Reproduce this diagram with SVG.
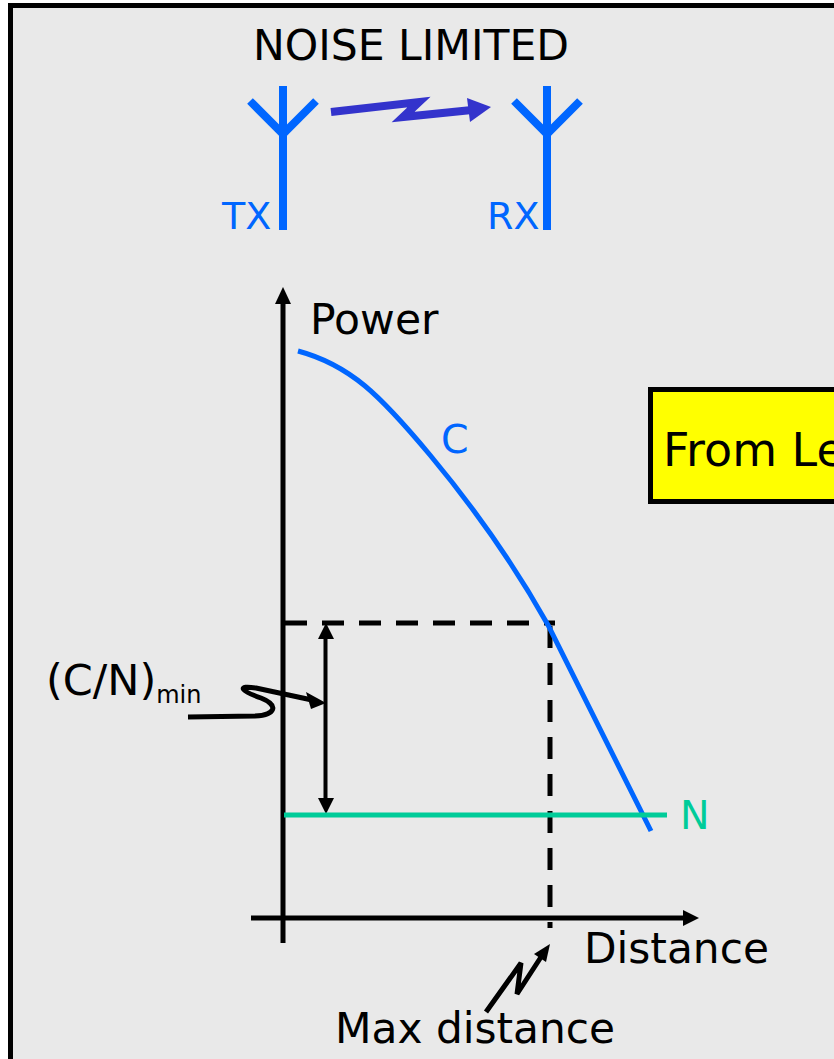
<svg xmlns="http://www.w3.org/2000/svg" width="834" height="1059" viewBox="0 0 834 1059">
<style>
  text { font-family: "DejaVu Sans", "Liberation Sans", sans-serif; }
  .blk { fill: #000; }
  .blue { fill: #0066ff; }
  .ant { stroke: #0066ff; stroke-width: 8; fill: none; }
  .axis { stroke: #000; stroke-width: 5; fill: none; }
  .dash { stroke: #000; stroke-width: 5; fill: none; stroke-dasharray: 22 15; }
  .lead { stroke: #000; stroke-width: 5; fill: none; }
</style>
<rect x="0" y="0" width="834" height="1059" fill="#ffffff"/>
<rect id="frame" x="10.5" y="5.5" width="900" height="1100" fill="#e9e9e9" stroke="#000" stroke-width="5"/>

<g id="title"><text x="253" y="60" font-size="42.5" class="blk">NOISE LIMITED</text></g>

<g id="tx">
  <path class="ant" d="M283,86 V230 M250,101 L283,134 L316,101"/>
  <text x="222" y="229" font-size="38" class="blue">TX</text>
</g>
<g id="rx">
  <path class="ant" d="M547,86 V230 M514,101 L547,134 L580,101"/>
  <text x="487" y="229" font-size="38" class="blue">RX</text>
</g>

<g id="connectors">
  <polyline points="331,112 419,102 403,117 472,110" fill="none" stroke="#3333cc" stroke-width="8" stroke-linejoin="miter"/>
  <polygon points="467,98 491,107 470,122" fill="#3333cc"/>

  <line class="axis" x1="283" y1="943" x2="283" y2="303"/>
  <polygon points="275,304 283,287 291,304" fill="#000"/>
  <line class="axis" x1="251" y1="918" x2="684" y2="918"/>
  <polygon points="683,910 699,918 683,926" fill="#000"/>

  <line class="dash" x1="285" y1="623" x2="555" y2="623"/>
  <line class="dash" x1="550" y1="626" x2="550" y2="928"/>

  <line x1="325.5" y1="638" x2="325.5" y2="799" stroke="#000" stroke-width="4"/>
  <polygon points="318,639 326,623 334,639" fill="#000"/>
  <polygon points="318,798 326,814 334,798" fill="#000"/>

  <path class="lead" d="M188,717 L255,716 C276,715 279,705 261,698 C241,691 236,685 256,688 L312,700"/>
  <polygon points="306,692 326,703 311,709" fill="#000"/>

  <path class="lead" d="M486,1012 L521,963 L517,994 L541,957"/>
  <polygon points="534,954 550,944 546,962" fill="#000"/>
</g>

<g id="curveC">
  <path d="M298,351 C350,365 380,395 430,455 C480,515 520,575 548,625 L651,831" fill="none" stroke="#0066ff" stroke-width="5"/>
  <text x="441" y="453" font-size="39.5" class="blue">C</text>
</g>
<g id="lineN">
  <line x1="284" y1="815" x2="667" y2="815" stroke="#00cc99" stroke-width="5"/>
  <text x="680" y="829" font-size="39.5" fill="#00cc99">N</text>
</g>

<g id="labels">
  <text x="310" y="334" font-size="42.5" class="blk">Power</text>
  <text x="584" y="963" font-size="42.3" class="blk">Distance</text>
  <text x="335" y="1043" font-size="42.3" class="blk">Max distance</text>
  <text x="46" y="695" font-size="43" class="blk">(C/N)<tspan y="703" font-size="24">min</tspan></text>
</g>

<g id="note">
  <rect x="650.5" y="389.5" width="250" height="112" fill="#ffff00" stroke="#000" stroke-width="5"/>
  <text x="663" y="466" font-size="46" class="blk">From Le</text>
</g>
</svg>
